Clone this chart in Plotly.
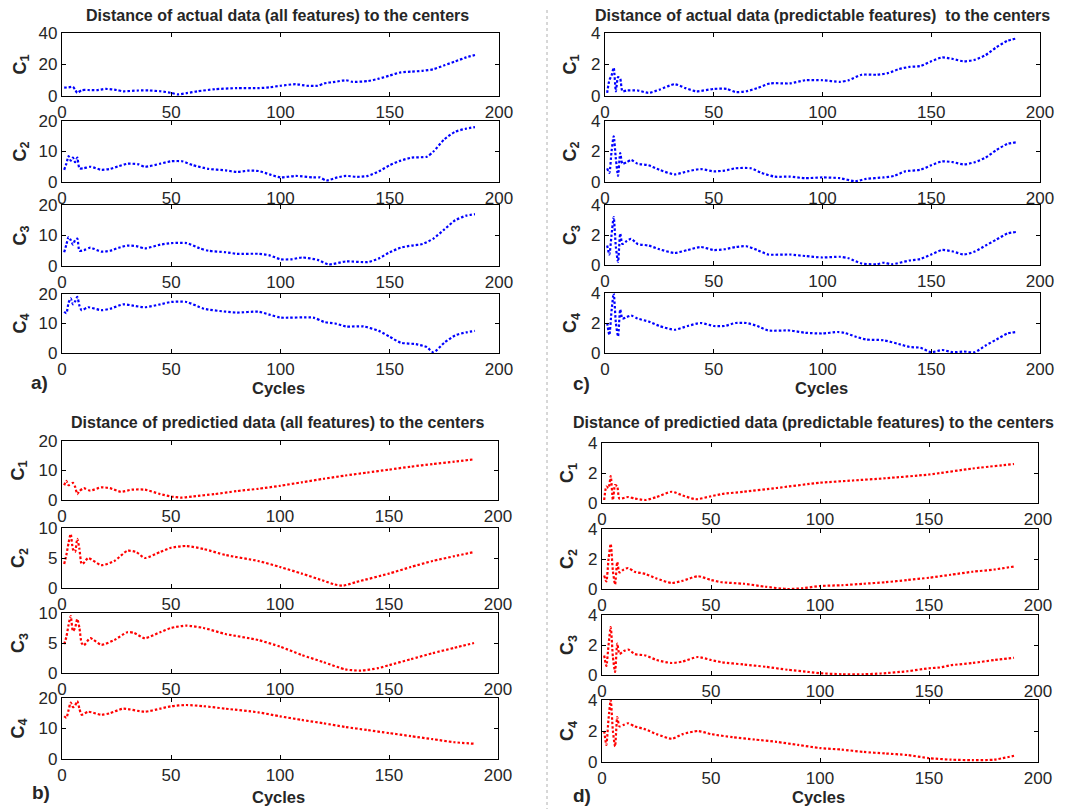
import plotly.graph_objects as go

W, H = 1081, 809

# ---------------- data: (cycle, distance) pairs ----------------
# Panel a) actual data, all features (blue)
a_c1 = [(1,5.3),(3,5.5),(5,5.8),(6,4),(7,2),(9,3.7),(12,3.8),(16,3.7),(20,4.5),(25,3.8),(28,3),(35,3.5),(40,3.5),(45,3),(50,2),(53,1),(57,1.8),(62,3),(70,4.3),(80,5),(90,5),(95,5.5),(100,6.5),(107,7.5),(112,6.5),(117,6.5),(120,8),(125,9),(130,10),(133,9),(140,9.5),(145,11),(150,13),(155,15),(160,15.5),(165,16),(170,17),(175,19.5),(180,22),(185,24.5),(189,26)]
a_c2 = [(1,4),(2,6),(3,8.5),(4,7),(5,8),(6,6.5),(7,8),(8,4.5),(10,4.5),(13,5),(18,4),(22,4.3),(26,5.2),(30,6),(35,5.8),(38,5),(45,6),(50,6.8),(55,6.8),(60,5.5),(67,4.3),(75,3.8),(80,3.3),(85,3.7),(90,3.6),(95,2.5),(100,1.5),(107,2),(115,1.5),(118,1.5),(121,0.5),(126,1.5),(130,2),(135,1.7),(140,2),(145,3.5),(150,5.5),(155,7),(160,8),(167,8.3),(170,10),(175,14),(180,16.5),(185,17.5),(189,18)]
a_c3 = [(1,4.5),(2,7),(3,9.5),(4,8.5),(5,7),(6,8.5),(7,9),(8,5),(10,5.2),(13,6),(18,4.7),(22,5),(26,6),(30,6.7),(34,6.5),(38,5.8),(45,7),(50,7.5),(57,7.5),(63,5.8),(67,5),(75,4.5),(80,4),(90,4),(95,3.5),(100,2.2),(105,2.2),(110,2.8),(117,2),(122,0.5),(130,1.5),(140,1.3),(145,2.5),(150,4.5),(155,6),(160,6.7),(165,7.2),(170,9),(175,12),(180,15),(185,16.5),(189,17)]
a_c4 = [(1,14),(2,13.5),(3,17),(4,18.5),(5,16.5),(6,17.5),(7,19),(8,16),(9,14.5),(12,15.5),(18,14.5),(22,15),(28,16.5),(33,16),(38,15.5),(45,16.5),(50,17.3),(57,17.3),(65,15),(75,14),(80,13.7),(90,14),(95,13),(100,12),(115,12),(120,10.5),(125,10),(130,9),(138,9),(145,7.5),(150,5.5),(155,3.5),(162,3),(167,2),(170,0.2),(175,3.5),(180,6),(185,7),(189,7.5)]

# Panel c) actual data, predictable features (blue)
c_c1 = [(1,0.2),(2,1.0),(3,1.3),(4,1.8),(5,0.3),(6,1.2),(7,1.1),(8,0.3),(10,0.35),(15,0.35),(20,0.2),(25,0.4),(32,0.75),(37,0.5),(42,0.3),(50,0.45),(56,0.45),(60,0.25),(65,0.3),(70,0.5),(76,0.8),(85,0.8),(92,1.0),(100,1.0),(108,0.9),(112,1.0),(118,1.35),(125,1.35),(130,1.45),(135,1.7),(140,1.85),(145,1.9),(150,2.2),(155,2.45),(160,2.35),(165,2.2),(170,2.3),(175,2.6),(180,3.1),(185,3.5),(189,3.65)]
c_c2 = [(1,0.9),(2,0.6),(3,2.0),(4,3.0),(5,1.5),(6,0.4),(7,1.9),(8,1.2),(10,1.3),(12,1.45),(15,1.2),(20,1.1),(25,0.8),(32,0.5),(38,0.7),(44,0.85),(50,0.7),(55,0.75),(60,0.9),(67,0.9),(72,0.6),(78,0.35),(85,0.35),(92,0.25),(100,0.3),(108,0.25),(115,0.05),(120,0.2),(128,0.3),(133,0.4),(138,0.7),(145,0.8),(150,1.1),(155,1.35),(160,1.3),(165,1.15),(170,1.3),(175,1.6),(180,2.1),(185,2.5),(189,2.6)]
c_c3 = [(1,1.3),(2,0.7),(3,2.0),(4,3.2),(5,1.2),(6,0.2),(7,2.1),(8,1.4),(10,1.6),(12,1.75),(15,1.4),(20,1.3),(25,1.05),(32,0.8),(38,1.0),(44,1.2),(50,1.0),(55,1.05),(60,1.2),(65,1.25),(70,1.0),(75,0.7),(85,0.7),(92,0.6),(100,0.5),(108,0.55),(112,0.45),(118,0.1),(125,0.05),(128,0.15),(132,0.05),(140,0.3),(145,0.4),(150,0.7),(155,1.0),(160,0.9),(165,0.7),(170,0.9),(175,1.3),(180,1.7),(185,2.1),(189,2.2)]
c_c4 = [(1,2.0),(2,1.2),(3,2.8),(4,4.0),(5,2.0),(6,1.1),(7,2.9),(8,2.3),(10,2.4),(12,2.5),(15,2.3),(20,2.1),(25,1.8),(32,1.55),(38,1.8),(44,2.0),(50,1.8),(55,1.8),(60,2.0),(65,2.0),(70,1.8),(75,1.5),(85,1.5),(92,1.35),(100,1.3),(107,1.4),(110,1.35),(115,1.1),(120,0.9),(128,0.85),(135,0.6),(140,0.4),(145,0.35),(150,0.05),(155,0.2),(160,0.05),(165,0.1),(170,0.05),(175,0.5),(180,0.9),(185,1.3),(189,1.4)]

# Panel b) predicted data, all features (red)
b_c1 = [(1,5),(2,6.5),(3,5),(5,5.8),(6,4.5),(7,2),(8,3),(10,4),(13,3.2),(18,4.3),(22,4),(27,2.8),(32,3.5),(38,3.5),(45,2),(50,1.2),(55,0.8),(60,1.2),(70,2),(80,3),(90,3.8),(100,4.8),(110,6),(120,7.2),(130,8.3),(140,9.3),(150,10.3),(160,11.3),(170,12.2),(180,13),(189,13.8)]
b_c2 = [(1,4),(2,5.5),(3,7.5),(4,9),(5,6.5),(6,6),(7,8.2),(8,6.5),(9,4),(10,4.2),(12,5),(18,3.8),(24,4.5),(30,6.2),(34,6),(38,5),(45,6),(50,6.7),(57,7),(65,6.5),(75,5.5),(90,4.5),(100,3.5),(110,2.4),(120,1.2),(125,0.6),(129,0.4),(135,1),(150,2.4),(160,3.5),(170,4.5),(180,5.3),(189,6)]
b_c3 = [(1,4.8),(2,6),(3,8),(4,9.5),(5,7),(6,7.5),(7,9),(8,7.5),(9,5),(10,4.6),(13,5.8),(18,4.7),(24,5.5),(30,6.8),(33,6.7),(38,5.8),(45,6.8),(50,7.5),(57,7.9),(65,7.5),(75,6.5),(90,5.5),(100,4.4),(110,3),(120,1.8),(130,0.6),(137,0.4),(145,0.8),(150,1.3),(160,2.3),(170,3.3),(180,4.2),(189,5)]
b_c4 = [(1,14),(2,13.5),(3,16),(4,18.5),(5,17),(6,17.5),(7,19),(8,16.5),(9,14.5),(12,15.5),(18,14.5),(22,15),(28,16.5),(38,15.5),(45,16.5),(50,17.3),(57,17.7),(65,17.3),(75,16.5),(90,15.3),(100,14),(110,12.8),(120,11.7),(130,10.5),(140,9.5),(150,8.5),(160,7.5),(170,6.5),(180,5.5),(189,5)]

# Panel d) predicted data, predictable features (red)
d_c1 = [(1,0.2),(2,1.1),(3,1.0),(4,1.8),(5,0.2),(6,1.2),(7,1.1),(8,0.3),(12,0.4),(15,0.3),(20,0.2),(25,0.4),(32,0.75),(37,0.5),(43,0.25),(50,0.45),(55,0.6),(65,0.75),(80,1.0),(100,1.35),(115,1.5),(130,1.65),(150,1.9),(170,2.3),(189,2.6)]
d_c2 = [(1,0.9),(2,0.5),(3,2.0),(4,3.0),(5,1.2),(6,0.3),(7,1.8),(8,1.1),(10,1.3),(12,1.4),(15,1.15),(20,1.0),(25,0.7),(32,0.4),(37,0.55),(44,0.85),(50,0.6),(55,0.45),(65,0.35),(75,0.15),(85,0.0),(92,0.05),(100,0.2),(110,0.25),(120,0.35),(130,0.45),(140,0.6),(150,0.75),(160,0.95),(170,1.15),(180,1.3),(189,1.5)]
d_c3 = [(1,1.3),(2,0.6),(3,2.0),(4,3.2),(5,1.2),(6,0.2),(7,2.1),(8,1.4),(10,1.6),(12,1.7),(15,1.4),(20,1.3),(25,1.0),(32,0.8),(37,0.9),(44,1.2),(50,1.0),(55,0.85),(65,0.7),(75,0.55),(85,0.35),(95,0.2),(100,0.12),(110,0.05),(120,0.05),(128,0.1),(140,0.25),(150,0.45),(155,0.5),(160,0.65),(170,0.8),(180,1.0),(189,1.15)]
d_c4 = [(1,2.0),(2,1.1),(3,2.8),(4,4.0),(5,2.0),(6,1.0),(7,2.9),(8,2.3),(10,2.4),(12,2.5),(15,2.3),(20,2.1),(25,1.8),(32,1.5),(37,1.8),(44,2.0),(50,1.8),(60,1.6),(70,1.45),(80,1.3),(90,1.1),(100,0.9),(110,0.8),(120,0.65),(130,0.55),(140,0.45),(150,0.25),(160,0.15),(170,0.12),(180,0.15),(189,0.4)]

# Axis settings / labels
x_ticks = [0, 50, 100, 150, 200]
center_labels = ["C<sub>1</sub>", "C<sub>2</sub>", "C<sub>3</sub>", "C<sub>4</sub>"]
a_ymax = [40, 20, 20, 20]
b_ymax = [20, 10, 10, 20]
c_ymax = [4, 4, 4, 4]
d_ymax = [4, 4, 4, 4]
titles = {
    "a": "Distance of actual data (all features) to the centers",
    "c": "Distance of actual data (predictable features)  to the centers",
    "b": "Distance of predictied data (all features) to the centers",
    "d": "Distance of predictied data (predictable features) to the centers",
}

# ---------------- layout geometry (pixels in the final screenshot) ----------------
panels = [
    dict(key="a", series=[a_c1, a_c2, a_c3, a_c4], ymax=a_ymax, color="#0000FF",
         xpx=(62, 499), ypx=[(33, 96), (121, 182), (205, 266), (294, 353)],
         ylab_x=21, title_xy=(277, 15), cyc_xy=(278, 388), tag_xy=(39, 382)),
    dict(key="c", series=[c_c1, c_c2, c_c3, c_c4], ymax=c_ymax, color="#0000FF",
         xpx=(605, 1040), ypx=[(33, 96), (121, 182), (205, 265), (293, 353)],
         ylab_x=571, title_xy=(822, 15), cyc_xy=(821, 388), tag_xy=(581, 383)),
    dict(key="b", series=[b_c1, b_c2, b_c3, b_c4], ymax=b_ymax, color="#FF0000",
         xpx=(62, 498), ypx=[(441, 500), (528, 588), (613, 673), (698, 759)],
         ylab_x=19, title_xy=(278, 423), cyc_xy=(278, 797), tag_xy=(41, 792)),
    dict(key="d", series=[d_c1, d_c2, d_c3, d_c4], ymax=d_ymax, color="#FF0000",
         xpx=(602, 1038), ypx=[(443, 503), (529, 589), (615, 675), (700, 762)],
         ylab_x=568, title_xy=(813, 423), cyc_xy=(818, 797), tag_xy=(582, 795)),
]

FONT = "Liberation Sans, Arial, sans-serif"
TXT = "#262626"
OFF = 8  # page body margin offset

def fx(px):
    return (px - OFF) / W

def fy(py):
    return 1 - (py - OFF) / H

fig = go.Figure()
layout = {}
annotations = []
idx = 0
for p in panels:
    for k, (ser, ym) in enumerate(zip(p["series"], p["ymax"])):
        idx += 1
        sfx = "" if idx == 1 else str(idx)
        xs = [v[0] for v in ser]
        ys = [v[1] for v in ser]
        fig.add_trace(go.Scatter(
            x=xs, y=ys, mode="lines", showlegend=False,
            line=dict(color=p["color"], width=2.2, dash="2.5px,2px", shape="spline", smoothing=0.6),
            xaxis="x" + sfx, yaxis="y" + sfx, hoverinfo="skip"))
        top, bot = p["ypx"][k]
        common = dict(showline=True, linecolor="#000", linewidth=1.3, mirror="ticks",
                      ticks="inside", ticklen=4, tickcolor="#000", tickwidth=1,
                      showgrid=False, zeroline=False, automargin=False,
                      tickfont=dict(family=FONT, size=17, color=TXT))
        layout["xaxis" + sfx] = dict(domain=[fx(p["xpx"][0]), fx(p["xpx"][1])],
                                     range=[0, 200], tickvals=x_ticks,
                                     anchor="y" + sfx, **common)
        layout["yaxis" + sfx] = dict(domain=[fy(bot), fy(top)], range=[0, ym],
                                     tickvals=[0, ym / 2, ym],
                                     ticktext=[str(int(v)) if float(v).is_integer() else str(v) for v in [0, ym / 2, ym]],
                                     anchor="x" + sfx, **common)
        annotations.append(dict(text="<b>" + center_labels[k] + "</b>", textangle=-90,
                                x=fx(p["ylab_x"]), y=fy((top + bot) / 2),
                                xref="paper", yref="paper", showarrow=False,
                                xanchor="center", yanchor="middle",
                                font=dict(family=FONT, size=18, color=TXT)))
    annotations.append(dict(text="<b>" + titles[p["key"]] + "</b>",
                            x=fx(p["title_xy"][0]), y=fy(p["title_xy"][1]),
                            xref="paper", yref="paper", showarrow=False,
                            xanchor="center", yanchor="middle",
                            font=dict(family=FONT, size=16, color=TXT)))
    annotations.append(dict(text="<b>Cycles</b>",
                            x=fx(p["cyc_xy"][0]), y=fy(p["cyc_xy"][1]),
                            xref="paper", yref="paper", showarrow=False,
                            xanchor="center", yanchor="middle",
                            font=dict(family=FONT, size=16.5, color=TXT)))
    annotations.append(dict(text="<b>" + p["key"] + ")</b>",
                            x=fx(p["tag_xy"][0]), y=fy(p["tag_xy"][1]),
                            xref="paper", yref="paper", showarrow=False,
                            xanchor="center", yanchor="middle",
                            font=dict(family=FONT, size=19, color=TXT)))

fig.update_layout(
    width=W, height=H, margin=dict(l=0, r=0, t=0, b=0, pad=0, autoexpand=False),
    paper_bgcolor="white", plot_bgcolor="white",
    annotations=annotations,
    shapes=[dict(type="line", xref="paper", yref="paper",
                 x0=fx(547), x1=fx(547), y0=0, y1=1,
                 line=dict(color="#b0b0b0", width=1, dash="dot"))],
    **layout)

fig.write_html("out.html")
